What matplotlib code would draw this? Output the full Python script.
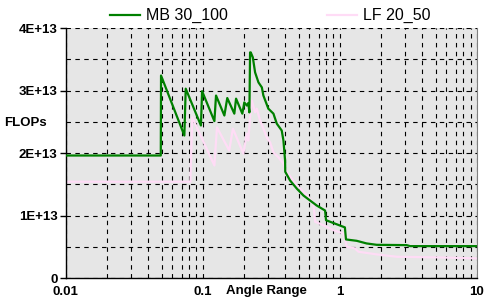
import matplotlib
matplotlib.use("Agg")
import matplotlib.pyplot as plt
from matplotlib.ticker import FixedLocator, NullFormatter, LogLocator

plt.rcParams.update({
    'font.family': ['Liberation Sans', 'DejaVu Sans'],
    'font.size': 8,
})

# MB 30_100 (green)
mb_x = [0.01, 0.0494, 0.0496, 0.0734, 0.0751, 0.097, 0.0989, 0.1216, 0.125,
        0.1438, 0.151, 0.170, 0.175, 0.1945, 0.201, 0.2095, 0.215, 0.219,
        0.2215, 0.224, 0.232, 0.241, 0.255, 0.270, 0.277, 0.301, 0.328, 0.347,
        0.377, 0.388, 0.399, 0.400, 0.434, 0.486, 0.543, 0.607, 0.679, 0.781,
        0.794, 0.898, 1.09, 1.11, 1.33, 1.57, 1.86, 3.08, 3.26, 10.0]
mb_y = [1.96, 1.96, 3.24, 2.28, 3.03, 2.44, 2.99, 2.51, 2.92,
        2.60, 2.88, 2.63, 2.87, 2.63, 2.81, 2.76, 2.80, 2.65,
        3.61, 3.61, 3.53, 3.29, 3.13, 3.05, 2.92, 2.71, 2.63, 2.47,
        2.36, 2.20, 1.88, 1.70, 1.56, 1.43, 1.32, 1.24, 1.16, 1.08,
        0.925, 0.88, 0.81, 0.617, 0.595, 0.553, 0.531, 0.526, 0.51, 0.51]

# LF 20_50 (pink)
lf_x = [0.01, 0.0812, 0.0838, 0.1216, 0.127, 0.156, 0.166, 0.198, 0.2095,
        0.215, 0.2215, 0.228, 0.241, 0.248, 0.262, 0.277, 0.293, 0.310, 0.328,
        0.357, 0.388, 0.410, 0.447, 0.486, 0.543, 0.590, 0.642, 0.661, 0.759,
        0.898, 1.06, 1.09, 1.125, 1.29, 1.37, 1.86, 2.61, 5.1, 10.0]
lf_y = [1.54, 1.54, 2.57, 1.80, 2.41, 2.04, 2.39, 1.99, 2.31,
        2.20, 2.57, 2.84, 2.65, 2.71, 2.52, 2.39, 2.25, 2.17, 2.01,
        1.93, 1.83, 1.70, 1.59, 1.48, 1.38, 1.30, 1.19, 0.90, 0.845,
        0.766, 0.713, 0.633, 0.50, 0.474, 0.42, 0.378, 0.34, 0.33, 0.314]

y_ticks = [0, 1e13, 2e13, 3e13, 4e13]
y_labels = ['0', '1E+13', '2E+13', '3E+13', '4E+13']
x_ticks = [0.01, 0.1, 1, 10]
x_labels = ['0.01', '0.1', '1', '10']

fig = plt.figure(figsize=(4.87, 3.03), dpi=100)
ax = fig.add_axes([0.135, 0.0825, 0.844, 0.825])
ax.set_facecolor('#e6e6e6')

ax.plot(mb_x, [v * 1e13 for v in mb_y], color='#008000', lw=1.6, label='MB 30_100', zorder=3)
ax.plot(lf_x, [v * 1e13 for v in lf_y], color='#ffdcf6', lw=1.6, label='LF 20_50', zorder=2)

ax.set_xscale('log')
ax.set_xlim(0.01, 10)
ax.set_ylim(0, 4e13)

ax.set_xticks(x_ticks)
ax.set_xticklabels(x_labels, fontweight='bold', fontsize=9.5)
ax.xaxis.set_minor_locator(LogLocator(base=10, subs=range(2, 10)))
ax.xaxis.set_minor_formatter(NullFormatter())
ax.set_yticks(y_ticks)
ax.set_yticklabels(y_labels, fontweight='bold', fontsize=9.5)
ax.yaxis.set_minor_locator(FixedLocator([5e12, 1.5e13, 2.5e13, 3.5e13]))
ax.tick_params(axis='y', which='major', length=4, width=1, direction='out', pad=2)
ax.tick_params(axis='x', which='major', length=0, pad=6)
ax.tick_params(axis='both', which='minor', length=0)

ax.grid(True, which='both', axis='both', color='black', ls=(0, (4, 4)), lw=0.8)
ax.set_axisbelow(True)

ax.spines['top'].set_visible(False)
ax.spines['right'].set_color('#808080')
ax.spines['left'].set_linewidth(1)
ax.spines['bottom'].set_linewidth(1)

ax.text(-0.15, 0.62, 'FLOPs', transform=ax.transAxes, fontweight='bold',
        fontsize=9.5, ha='left', va='center')
ax.text(0.39, -0.052, 'Angle Range', transform=ax.transAxes, fontweight='bold',
        fontsize=9.5, ha='left', va='center')

fig.legend(loc='upper center', bbox_to_anchor=(0.555, 1.02), ncol=2, frameon=False,
           fontsize=11.5, handlelength=1.9, handletextpad=0.35, columnspacing=6.2)

fig.savefig('out.png', dpi=100)
